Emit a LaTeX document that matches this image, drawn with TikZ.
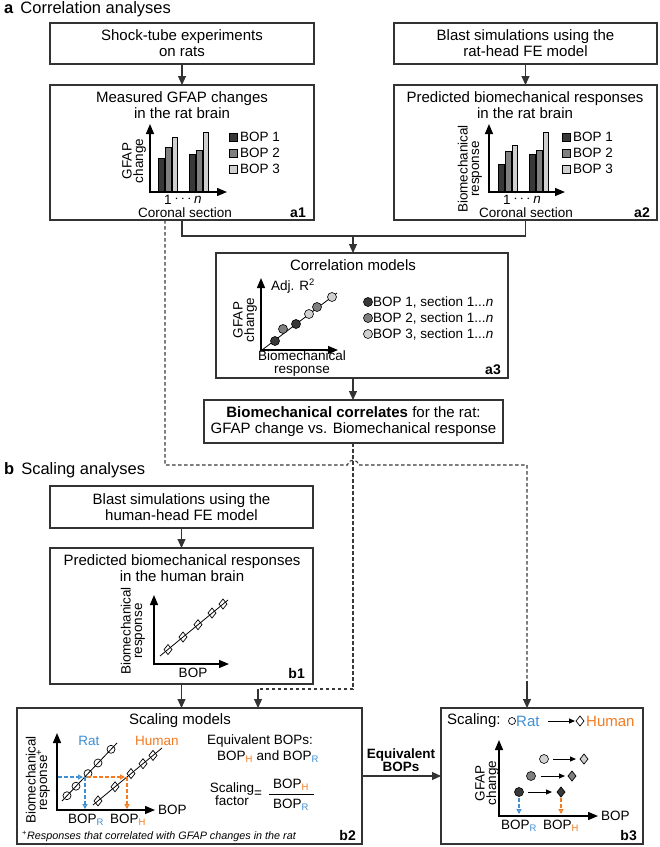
\documentclass[tikz,border=0pt]{standalone}
\usepackage{fontspec}
\setmainfont{Liberation Sans}
\usetikzlibrary{arrows.meta}
\definecolor{boxc}{HTML}{333333}
\definecolor{dshc}{HTML}{3A3A3A}
\definecolor{dk}{HTML}{383838}
\definecolor{md}{HTML}{7F7F7F}
\definecolor{lt}{HTML}{D0D0D0}
\definecolor{ratb}{HTML}{3F8FD2}
\definecolor{humo}{HTML}{F47B20}
\newcommand\ftitle{\fontsize{15}{16}\selectfont}
\newcommand\flab{\fontsize{13.5}{13}\selectfont}
\newcommand\frot{\fontsize{13.5}{11.5}\selectfont}
\newcommand\fsec{\fontsize{16.5}{18}\selectfont}
\newcommand\fnote{\fontsize{10.8}{12}\selectfont}
\newcommand\bopR{BOP\textsubscript{\color{ratb}R}}
\newcommand\bopH{BOP\textsubscript{\color{humo}H}}
\newcommand\mydia[3]{\draw[line width=0.7pt, fill=#3] (#1,#2) +(0,-5) -- +(4,0) -- +(0,5) -- +(-4,0) -- cycle;}
\begin{document}
\begin{tikzpicture}[x=1pt,y=-1pt,
  box/.style={draw=boxc, line width=1.2pt, inner sep=0pt, outer sep=0pt, align=center, font=\ftitle, anchor=north west},
  arr/.style={draw=boxc, line width=1.1pt, -{Triangle[length=9pt,width=8pt]}},
  axis/.style={draw=black, line width=1.3pt, {Triangle[length=10pt,width=8pt]}-{Triangle[length=10pt,width=8pt]}},
  bar/.style={draw=black, line width=0.6pt},
  lab/.style={font=\flab, inner sep=0pt},
  ttl/.style={font=\ftitle, inner sep=0pt, align=center},
  rot/.style={font=\frot, inner sep=0pt, rotate=90, align=center},
  tag/.style={font={\fontsize{14}{14}\selectfont\bfseries}, inner sep=0pt, anchor=east},
  dsh/.style={draw=dshc, line width=1.1pt, dash pattern=on 3.5pt off 2.5pt},
  cdsh/.style={line width=1.2pt, dash pattern=on 3.5pt off 2.5pt},
  oarr/.style={-{Triangle[open,length=5pt,width=5pt,fill=white]}},
  sarr/.style={line width=1pt, -{Triangle[length=6pt,width=5pt]}},
  dot/.style={circle, draw=black, line width=0.6pt, inner sep=0pt, minimum size=9pt},
  odot/.style={circle, draw=black, line width=0.7pt, fill=white, inner sep=0pt, minimum size=8pt},
]
\useasboundingbox (0,0) rectangle (660,847);
\fill[white] (0,0) rectangle (660,847);

% section titles
\node[font=\fsec, anchor=west, inner sep=0pt] (ta) at (4,9) {\textbf{a}\hspace{7pt}Correlation analyses};
\node[font=\fsec, anchor=west, inner sep=0pt] (tb) at (4,470) {\textbf{b}\hspace{7pt}Scaling analyses};

% boxes
\node[box, minimum width=264pt, minimum height=41pt] (s1) at (50,23) {Shock-tube experiments\\on rats};
\node[box, minimum width=263pt, minimum height=41pt] (s2) at (394,23) {Blast simulations using the\\rat-head FE model};
\node[box, minimum width=264pt, minimum height=135pt] (a1) at (50,85) {};
\node[box, minimum width=263pt, minimum height=135pt] (a2) at (394,85) {};
\node[box, minimum width=292pt, minimum height=125pt] (a3) at (216,253) {};
\node[box, minimum width=299pt, minimum height=43pt] (corr) at (204,400) {\textbf{Biomechanical correlates} for the rat:\\GFAP change vs. Biomechanical response};
\node[box, minimum width=263pt, minimum height=42pt] (h1) at (50,486) {Blast simulations using the\\human-head FE model};
\node[box, minimum width=263pt, minimum height=136pt] (b1) at (50,548) {};
\node[box, minimum width=345pt, minimum height=136pt] (b2) at (17,708) {};
\node[box, minimum width=202pt, minimum height=136pt] (b3) at (441,708) {};

% ---------- a1 ----------
\node[ttl] (a1t) at (182,105) {Measured GFAP changes\\in the rat brain};
\draw[bar, fill=dk] (158,192) rectangle (164,158);
\draw[bar, fill=md] (165,192) rectangle (171,147);
\draw[bar, fill=lt] (172,192) rectangle (177,137);
\draw[bar, fill=dk] (189,192) rectangle (195,154);
\draw[bar, fill=md] (196,192) rectangle (202,150);
\draw[bar, fill=lt] (203,192) rectangle (208,132);
\draw[axis] (150,124) -- (150,192) -- (227,192);
\node[rot] (a1y) at (134,161) {GFAP\\change};
\node[lab] (a1n1) at (168,200) {1};
\node[lab] (a1d) at (183,199) {$\cdots$};
\node[lab] (a1nn) at (198,200) {\textit{n}};
\node[lab] (a1x) at (185,213) {Coronal section};
\draw[bar, fill=dk] (229,133) rectangle (237,141);
\draw[bar, fill=md] (229,149) rectangle (237,157);
\draw[bar, fill=lt] (229,165) rectangle (237,173);
\node[lab, anchor=west] (a1l1) at (240,137) {BOP 1};
\node[lab, anchor=west] (a1l2) at (240,153) {BOP 2};
\node[lab, anchor=west] (a1l3) at (240,169) {BOP 3};
\node[tag] (a1g) at (306,213) {a1};

% ---------- a2 ----------
\node[ttl] (a2t) at (525,105) {Predicted biomechanical responses\\in the rat brain};
\draw[bar, fill=dk] (498,192) rectangle (504,164);
\draw[bar, fill=md] (505,192) rectangle (511,151);
\draw[bar, fill=lt] (512,192) rectangle (517,145);
\draw[bar, fill=dk] (529,192) rectangle (535,154);
\draw[bar, fill=md] (536,192) rectangle (542,150);
\draw[bar, fill=lt] (543,192) rectangle (548,132);
\draw[axis] (489,124) -- (489,192) -- (565,192);
\node[rot] (a2y) at (470,169) {Biomechanical\\response};
\node[lab] (a2n1) at (507,200) {1};
\node[lab] (a2d) at (522,199) {$\cdots$};
\node[lab] (a2nn) at (537,200) {\textit{n}};
\node[lab] (a2x) at (526,213) {Coronal section};
\draw[bar, fill=dk] (562,133) rectangle (570,141);
\draw[bar, fill=md] (562,149) rectangle (570,157);
\draw[bar, fill=lt] (562,165) rectangle (570,173);
\node[lab, anchor=west] (a2l1) at (573,137) {BOP 1};
\node[lab, anchor=west] (a2l2) at (573,153) {BOP 2};
\node[lab, anchor=west] (a2l3) at (573,169) {BOP 3};
\node[tag] (a2g) at (650,213) {a2};

% ---------- a3 ----------
\node[ttl] (a3t) at (353,265) {Correlation models};
\draw[axis] (261,278) -- (261,350) -- (338,350);
\draw[line width=0.8pt] (262,350) -- (337,293);
\node[dot, fill=dk] (c1) at (275,341) {};
\node[dot, fill=md] (c2) at (283,329) {};
\node[dot, fill=dk] (c3) at (296,324) {};
\node[dot, fill=lt] (c4) at (309,314) {};
\node[dot, fill=md] (c5) at (317,307) {};
\node[dot, fill=lt] (c6) at (332,297) {};
\node[lab] (adj) at (293,286) {Adj. R\textsuperscript{2}};
\node[rot] (a3y) at (245,320) {GFAP\\change};
\node[lab, align=center] (a3x) at (302,364) {Biomechanical\\response};
\node[dot, fill=dk] (l1) at (368,302) {};
\node[dot, fill=md] (l2) at (368,318) {};
\node[dot, fill=lt] (l3) at (368,334) {};
\node[lab, anchor=west] (l1t) at (373,302) {BOP 1, section 1...\textit{n}};
\node[lab, anchor=west] (l2t) at (373,318) {BOP 2, section 1...\textit{n}};
\node[lab, anchor=west] (l3t) at (373,334) {BOP 3, section 1...\textit{n}};
\node[tag] (a3g) at (501,370) {a3};

% ---------- b1 ----------
\node[ttl] (b1t) at (182,568) {Predicted biomechanical responses\\in the human brain};
\draw[axis] (154,595) -- (154,664) -- (229,664);
\mydia{168}{649.5}{white}
\mydia{183}{637}{white}
\mydia{198}{624.7}{white}
\mydia{212}{613}{white}
\mydia{223}{604}{white}
\draw[line width=0.8pt] (160,656) -- (228,600);
\node[rot] (b1y) at (133,631) {Biomechanical\\response};
\node[lab] (b1x) at (193,673) {BOP};
\node[tag] (b1g) at (305,673) {b1};

% ---------- b2 ----------
\node[ttl] (b2t) at (180,721) {Scaling models};
\draw[axis] (57,733) -- (57,810) -- (155,810);
\node[lab, anchor=west] (b2x) at (158,810) {BOP};
\node[odot] (r1) at (67,795.7) {};
\node[odot] (r2) at (76,786.2) {};
\node[odot] (r3) at (88,773.6) {};
\node[odot] (r4) at (98,763) {};
\node[odot] (r5) at (111,749.3) {};
\draw[line width=0.8pt] (62,801) -- (117,743);
\mydia{98}{800.9}{white}
\mydia{115}{786.8}{white}
\mydia{131}{773.6}{white}
\mydia{143}{763.7}{white}
\mydia{153}{755.4}{white}
\draw[line width=0.8pt] (93,805) -- (162,748);
\draw[cdsh, draw=ratb, oarr] (58,777) -- (83,777);
\draw[cdsh, draw=ratb, oarr] (85,777) -- (85,809);
\draw[cdsh, draw=humo, oarr] (87,777) -- (125,777);
\draw[cdsh, draw=humo, oarr] (127,777) -- (127,809);
\node[lab, text=ratb] (ratl) at (89,741) {Rat};
\node[lab, text=humo] (huml) at (157,741) {Human};
\node[rot] (b2y) at (38,780) {Biomechanical\\response\textsuperscript{+}};
\node[lab] (b2r) at (86,820) {\bopR};
\node[lab] (b2h) at (128,820) {\bopH};
\node[lab] (eq1) at (260,741) {Equivalent BOPs:};
\node[lab] (eq2) at (268,757) {\bopH{} and \bopR};
\node[lab, align=center] (sf) at (232,794) {Scaling\\factor};
\node[lab] (eqs) at (258,794) {=};
\node[lab] (fnum) at (291,785) {\bopH};
\node[lab] (fden) at (291,805) {\bopR};
\coordinate (fr1) at (269,794);
\coordinate (fr2) at (314,794);
\draw[line width=0.8pt] (fr1) -- (fr2);
\node[font=\fnote, anchor=west, inner sep=0pt] (fn) at (22,836) {\textsuperscript{+}\textit{Responses that correlated with GFAP changes in the rat}};
\node[tag] (b2g) at (356,835) {b2};

% ---------- b3 ----------
\node[font=\ftitle, anchor=west, inner sep=0pt] (sc) at (447,721) {Scaling:};
\node[odot, minimum size=7pt] (scr) at (512,721) {};
\node[font=\ftitle, anchor=west, inner sep=0pt, text=ratb] (scrt) at (516,721) {Rat};
\draw[sarr] (548,721) -- (575,721);
\mydia{580}{721}{white}
\node[font=\ftitle, anchor=west, inner sep=0pt, text=humo] (scht) at (586,721) {Human};
\draw[axis] (499,740) -- (499,816) -- (598,816);
\node[lab, anchor=west] (b3x) at (601,816) {BOP};
\draw[cdsh, draw=ratb, oarr] (519,798) -- (519,814);
\draw[cdsh, draw=humo, oarr] (561,798) -- (561,814);
\node[dot, fill=lt] (p3) at (544,759) {};
\node[dot, fill=md] (p2) at (531,776) {};
\node[dot, fill=dk] (p1) at (519,792) {};
\draw[sarr] (553,759) -- (576,759);
\draw[sarr] (541,776) -- (565,776);
\draw[sarr] (528,792) -- (552,792);
\mydia{584}{759}{lt}
\mydia{572}{776}{md}
\mydia{561}{792}{dk}
\node[rot] (b3y) at (487,783) {GFAP\\change};
\node[lab] (b3r) at (519,826) {\bopR};
\node[lab] (b3h) at (561,826) {\bopH};
\node[tag] (b3g) at (637,835) {b3};

% ---------- connectors ----------
\draw[arr] (s1.south) -- (a1.north);
\draw[arr] (s2.south) -- (a2.north);
\coordinate (jn) at (353,236);
\draw[draw=boxc, line width=1.1pt] (a1.south) |- (jn) -| (a2.south);
\draw[arr] (jn) -- (a3.north -| jn);
\draw[arr] (a3.south -| jn) -- (corr.north -| jn);
\draw[arr] (h1.south) -- (b1.north);
\draw[arr] (b1.south) -- (b2.north -| b1.south);
\draw[arr] (b2.east) -- (b3.west);
\node[font={\flab\bfseries}, align=center, inner sep=0pt] (eqb) at (401,760) {Equivalent\\BOPs};

\coordinate (d1) at (165,465);
\coordinate (d2) at (527,465);
\coordinate (d3) at (527,681);
\draw[dsh] (a1.south -| d1) -- (d1) -- (347.5,465) .. controls (348.5,458.5) and (357.5,458.5) .. (358.5,465) -- (d2) -- (d3);
\draw[arr] (d3) -- (b3.north -| d3);
\coordinate (e1) at (353,689);
\coordinate (e2) at (258,689);
\draw[dsh] (corr.south -| e1) -- (e1) -- (e2);
\draw[arr] (e2) -- (b2.north -| e2);
\end{tikzpicture}
\end{document}
